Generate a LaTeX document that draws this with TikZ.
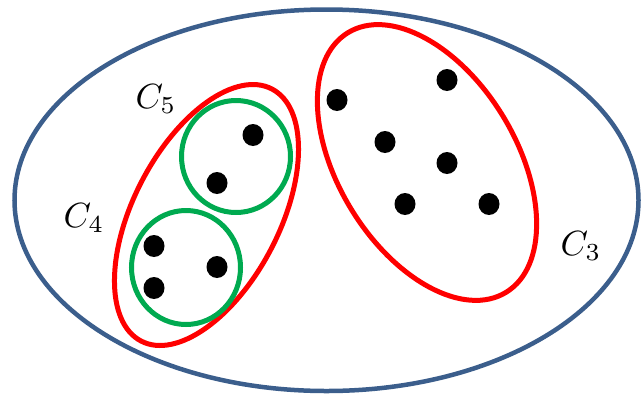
\documentclass[tikz,border=0pt]{standalone}
\usepackage{tikz}
\definecolor{setblue}{RGB}{59,94,140}
\definecolor{setred}{RGB}{255,0,0}
\definecolor{setgreen}{RGB}{0,170,80}

\begin{document}
\begin{tikzpicture}[x=1pt, y=-1pt,
    outerset/.style={draw=setblue, line width=4.5pt},
    cluster/.style={draw=setred, line width=5pt},
    subcluster/.style={draw=setgreen, line width=5pt},
    clabel/.style={anchor=base west, inner sep=0pt, scale=3.5},
]
    \useasboundingbox (0,0) rectangle (644,397);

    % centres of the sets
    \coordinate (O) at (326.5, 200.25);
    \coordinate (L) at (206.5, 215);
    \coordinate (R) at (427, 162.5);
    \coordinate (G1) at (236, 156.5);
    \coordinate (G2) at (186, 267.5);

    % points
    \coordinate (P1) at (253, 135);
    \coordinate (P2) at (217, 183);
    \coordinate (P3) at (154, 246);
    \coordinate (P4) at (217, 267);
    \coordinate (P5) at (154, 288);
    \coordinate (P6) at (337, 100);
    \coordinate (P7) at (447, 80);
    \coordinate (P8) at (385, 142);
    \coordinate (P9) at (447, 163);
    \coordinate (P10) at (405, 204);
    \coordinate (P11) at (489, 204);

    \draw[outerset] (O) ellipse [x radius=312, y radius=190.75];

    \draw[cluster, rotate around={62.6:(L)}] (L) ellipse [x radius=142, y radius=73];
    \draw[cluster, rotate around={-58.7:(R)}] (R) ellipse [x radius=152, y radius=89];

    \draw[subcluster] (G1) ellipse [x radius=54.5, y radius=56];
    \draw[subcluster] (G2) ellipse [x radius=54.5, y radius=57];

    \foreach \i in {1,...,11}{
        \fill (P\i) ellipse [x radius=10.5, y radius=11];
    }

    \node[clabel] (c5) at (135, 108) {$C_5$};
    \node[clabel] (c4) at (63, 227) {$C_4$};
    \node[clabel] (c3) at (560, 255) {$C_3$};
\end{tikzpicture}
\end{document}
